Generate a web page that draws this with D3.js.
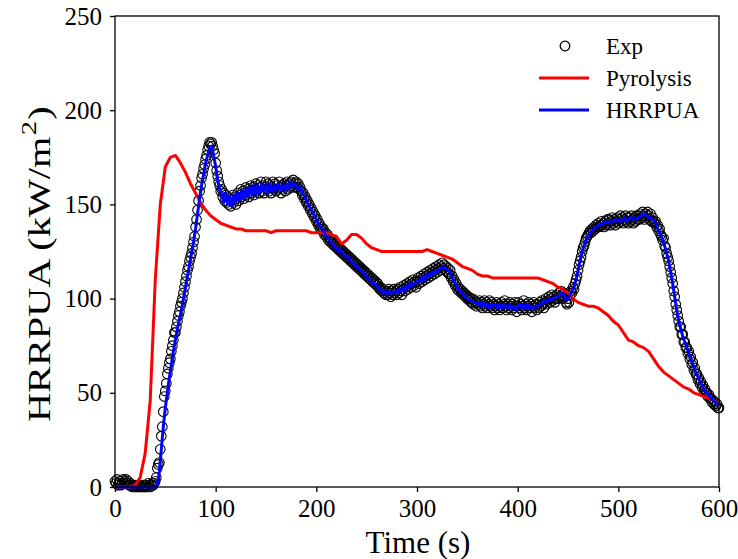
<!DOCTYPE html>
<html>
<head>
<meta charset="utf-8">
<script src="https://cdn.jsdelivr.net/npm/d3@7"></script>
<style>
  html, body { margin: 0; padding: 0; background: #fff; }
  svg text { font-family: 'Liberation Serif', 'Times New Roman', serif; fill: #000; }
</style>
</head>
<body>
<div id="chart"></div>
<script>
// Exp: one reading per second, 0..600 s (10 values per row)
const expTime = d3.range(0, 601, 1);
const expValues = [
  3, 2, 4, 1, 2, 3, 1, 2, 4, 2,
  3, 4, 2, 3, 1, 2, 1, 0, 1, 0,
  1, 0, 0, 1, 0, 1, 0, 0, 1, 0,
  0, 1, 0, 2, 1, 0, 1, 2, 1, 2,
  3, 5, 10, 12, 13, 20, 27, 32, 40, 48,
  51, 55, 60, 63, 66, 68, 72, 75, 78, 82,
  82, 85, 88, 91, 93, 96, 98, 100, 103, 106,
  109, 112, 115, 117, 120, 122, 124, 127, 130, 133,
  138, 142, 147, 152, 157, 160, 164, 166, 169, 171,
  174, 176, 179, 181, 183, 182, 183, 181, 179, 177,
  172, 168, 165, 162, 160, 157, 158, 154, 156, 152,
  155, 151, 154, 150, 153, 149, 152, 155, 151, 154,
  150, 153, 156, 152, 155, 158, 154, 157, 153, 156,
  159, 155, 158, 154, 157, 160, 156, 159, 155, 158,
  161, 157, 160, 156, 159, 162, 157, 160, 156, 159,
  162, 158, 161, 157, 160, 156, 159, 162, 158, 161,
  157, 160, 158, 162, 159, 156, 160, 158, 161, 157,
  160, 162, 158, 161, 159, 162, 160, 163, 159, 161,
  162, 159, 161, 158, 159, 157, 155, 156, 153, 154,
  151, 152, 149, 150, 147, 148, 145, 146, 143, 144,
  141, 142, 139, 140, 137, 138, 136, 137, 134, 135,
  133, 134, 131, 132, 130, 131, 129, 130, 128, 129,
  127, 128, 126, 127, 125, 126, 124, 125, 123, 124,
  122, 123, 121, 122, 120, 121, 119, 120, 118, 119,
  117, 118, 116, 117, 115, 116, 114, 115, 113, 114,
  112, 113, 111, 112, 110, 111, 109, 110, 108, 109,
  107, 108, 106, 105, 106, 104, 105, 103, 104, 102,
  104, 102, 105, 103, 101, 104, 102, 105, 103, 104,
  102, 105, 103, 106, 104, 102, 105, 107, 104, 106,
  108, 105, 107, 109, 106, 108, 110, 107, 109, 106,
  109, 111, 108, 110, 112, 109, 111, 113, 110, 112,
  114, 111, 113, 115, 112, 114, 116, 113, 115, 117,
  114, 116, 118, 115, 117, 119, 116, 118, 115, 117,
  114, 116, 113, 115, 111, 112, 109, 110, 107, 108,
  105, 106, 104, 105, 103, 104, 102, 103, 101, 102,
  100, 101, 99, 100, 98, 100, 97, 99, 98, 96,
  98, 97, 99, 96, 98, 95, 97, 99, 96, 98,
  95, 97, 99, 96, 98, 95, 97, 94, 96, 98,
  95, 97, 94, 96, 98, 95, 97, 99, 96, 94,
  97, 95, 98, 96, 94, 97, 95, 98, 96, 93,
  96, 98, 95, 97, 94, 96, 99, 95, 97, 94,
  96, 98, 95, 97, 93, 96, 98, 95, 97, 94,
  97, 95, 98, 96, 99, 97, 95, 98, 100, 97,
  99, 101, 98, 100, 102, 99, 101, 98, 100, 102,
  100, 103, 101, 104, 102, 100, 103, 101, 98, 97,
  100, 98, 102, 104, 103, 106, 105, 108, 110, 112,
  115, 118, 120, 122, 125, 127, 128, 130, 132, 133,
  134, 135, 136, 135, 137, 136, 138, 137, 139, 138,
  140, 138, 139, 141, 139, 140, 138, 141, 139, 142,
  140, 142, 139, 141, 143, 140, 142, 139, 141, 143,
  140, 142, 144, 141, 143, 140, 142, 144, 141, 143,
  140, 143, 141, 144, 142, 140, 143, 141, 144, 142,
  144, 142, 145, 143, 146, 144, 142, 145, 143, 146,
  144, 142, 145, 141, 143, 141, 140, 141, 138, 139,
  136, 137, 134, 133, 131, 132, 128, 127, 124, 122,
  120, 117, 114, 111, 108, 104, 101, 97, 94, 91,
  88, 85, 85, 81, 81, 77, 77, 74, 74, 71,
  72, 68, 69, 65, 66, 62, 63, 60, 60, 57,
  58, 55, 56, 53, 54, 51, 52, 50, 50, 48,
  49, 47, 47, 45, 46, 44, 45, 43, 44, 42,
  42
];

// Pyrolysis model: every 5 s
const pyrolysisTime = d3.range(0, 601, 5);
const pyrolysisValues = [
  0, 0, 0, 0, 1, 5, 18, 46, 110, 150,
  170, 175, 176, 172, 167, 161, 156, 151, 147, 144,
  142, 140, 139, 138, 137, 137, 136, 136, 136, 136,
  136, 135, 136, 136, 136, 136, 136, 136, 136, 135,
  135, 135, 135, 134, 133, 129, 131, 134, 134, 132,
  129, 127, 126, 125, 125, 125, 125, 125, 125, 125,
  125, 125, 126, 125, 124, 123, 122, 121, 119, 117,
  116, 115, 113, 112, 112, 111, 111, 111, 111, 111,
  111, 111, 111, 111, 111, 110, 109, 108, 106, 105,
  103, 100, 98, 97, 96, 96, 95, 93, 91, 88,
  86, 82, 78, 77, 75, 74, 72, 68, 64, 61,
  59, 57, 55, 53, 52, 50, 49, 48, 47, 46,
  44
];

// HRRPUA model: every 2 s
const hrrpuaTime = d3.range(0, 601, 2);
const hrrpuaValues = [
  0, 0, 0, 0, 0, 0, 0, 0, 0, 0,
  0, 0, 0, 0, 0, 0, 0, 0, 0, 0,
  0, 1, 8, 20, 32, 42, 50, 58, 65, 72,
  78, 84, 89, 94, 100, 106, 112, 118, 124, 130,
  137, 145, 153, 160, 166, 172, 176, 180, 181, 176,
  170, 163, 158, 155, 151, 156, 150, 154, 149, 155,
  151, 156, 152, 157, 153, 158, 154, 159, 155, 160,
  155, 160, 156, 161, 157, 160, 156, 161, 157, 160,
  157, 161, 158, 160, 157, 161, 158, 162, 159, 161,
  160, 158, 159, 156, 155, 152, 150, 148, 146, 144,
  142, 140, 138, 137, 135, 133, 132, 130, 129, 127,
  127, 125, 126, 124, 123, 122, 122, 120, 119, 118,
  117, 116, 115, 114, 113, 111, 111, 109, 108, 108,
  107, 105, 105, 103, 104, 102, 104, 103, 103, 104,
  103, 105, 104, 106, 104, 107, 106, 108, 107, 108,
  109, 110, 109, 112, 110, 113, 112, 114, 113, 115,
  114, 116, 116, 117, 116, 115, 115, 112, 110, 108,
  106, 104, 103, 102, 101, 100, 99, 99, 98, 98,
  97, 98, 96, 98, 96, 97, 95, 97, 96, 97,
  95, 97, 95, 97, 96, 95, 97, 95, 96, 94,
  96, 97, 95, 97, 95, 97, 95, 96, 95, 96,
  96, 97, 97, 99, 98, 99, 100, 99, 100, 101,
  101, 102, 103, 102, 99, 100, 102, 104, 106, 110,
  115, 120, 125, 128, 131, 133, 135, 136, 137, 138,
  139, 139, 140, 140, 141, 140, 141, 141, 142, 141,
  142, 141, 142, 143, 141, 142, 143, 142, 143, 142,
  143, 144, 144, 145, 144, 143, 143, 142, 141, 139,
  136, 134, 131, 128, 124, 120, 114, 108, 101, 94,
  88, 84, 80, 77, 74, 71, 68, 65, 62, 60,
  57, 55, 53, 51, 50, 49, 47, 46, 45, 44,
  43
];

const xTicks = [0, 100, 200, 300, 400, 500, 600];
const yTicks = [0, 50, 100, 150, 200, 250];
const legendLabels = ['Exp', 'Pyrolysis', 'HRRPUA'];

const expData = expValues.map((v, i) => [expTime[i], v]);
const pyrolysisData = pyrolysisValues.map((v, i) => [pyrolysisTime[i], v]);
const hrrpuaData = hrrpuaValues.map((v, i) => [hrrpuaTime[i], v]);

const width = 738;
const height = 559;
const margin = { top: 16, right: 19, bottom: 72, left: 115 };
const innerW = width - margin.left - margin.right;
const innerH = height - margin.top - margin.bottom;

const x = d3.scaleLinear().domain([0, 600]).range([0, innerW]);
const y = d3.scaleLinear().domain([0, 250]).range([innerH, 0]);

const svg = d3.select('#chart').append('svg')
  .attr('width', width)
  .attr('height', height);

const g = svg.append('g').attr('transform', `translate(${margin.left},${margin.top})`);

const line = d3.line().x((d) => x(d[0])).y((d) => y(d[1]));

// exp markers
g.append('g')
  .selectAll('circle')
  .data(expData)
  .join('circle')
  .attr('cx', (d) => x(d[0]))
  .attr('cy', (d) => y(d[1]))
  .attr('r', 4.8)
  .attr('fill', 'none')
  .attr('stroke', '#000')
  .attr('stroke-width', 1.1);

g.append('path')
  .datum(pyrolysisData)
  .attr('d', line)
  .attr('fill', 'none')
  .attr('stroke', '#ff0000')
  .attr('stroke-width', 3)
  .attr('stroke-linejoin', 'round');

g.append('path')
  .datum(hrrpuaData)
  .attr('d', line)
  .attr('fill', 'none')
  .attr('stroke', '#0000ff')
  .attr('stroke-width', 3)
  .attr('stroke-linejoin', 'round');

// axes
const xAxis = g.append('g')
  .attr('transform', `translate(0,${innerH})`)
  .call(d3.axisBottom(x).tickValues(xTicks).tickSize(5).tickPadding(7).tickFormat(d3.format('d')));
const yAxis = g.append('g')
  .call(d3.axisLeft(y).tickValues(yTicks).tickSize(5).tickPadding(8).tickFormat(d3.format('d')));

[xAxis, yAxis].forEach((a) => {
  a.attr('font-family', null).attr('font-size', null);
  a.select('.domain').remove();
  a.selectAll('line').attr('stroke', '#000').attr('stroke-width', 1.3);
  a.selectAll('text')
    .style('font-family', "'Liberation Serif', serif")
    .style('font-size', '25px');
});

g.append('rect')
  .attr('width', innerW)
  .attr('height', innerH)
  .attr('fill', 'none')
  .attr('stroke', '#000')
  .attr('stroke-width', 1.3);

// axis titles
svg.append('text')
  .attr('x', 418)
  .attr('y', 553)
  .attr('text-anchor', 'middle')
  .attr('font-size', 31)
  .text('Time (s)');

// the reference label is drawn stretched along its length
const yTitle = svg.append('text')
  .attr('transform', 'translate(50,422) rotate(-90) scale(1.3,1)')
  .attr('text-anchor', 'start')
  .attr('font-size', 31);
yTitle.append('tspan').text('HRRPUA (kW/m');
yTitle.append('tspan').attr('font-size', 22).attr('dy', -14).attr('dx', 1).text('2');
yTitle.append('tspan').attr('dy', 14).attr('dx', 1).text(')');

// legend
const legend = svg.append('g').attr('transform', 'translate(539,46)');
legendLabels.forEach((label, i) => {
  const row = legend.append('g').attr('transform', `translate(0,${i * 32})`);
  if (i === 0) {
    row.append('circle').attr('cx', 26).attr('cy', 0).attr('r', 4.8)
      .attr('fill', 'none').attr('stroke', '#000').attr('stroke-width', 1.3);
  } else {
    row.append('line').attr('x1', 0).attr('x2', 50).attr('y1', 0).attr('y2', 0)
      .attr('stroke', i === 1 ? '#ff0000' : '#0000ff').attr('stroke-width', 3);
  }
  row.append('text').attr('x', 67).attr('y', 8).attr('font-size', 23).text(label);
});
</script>
</body>
</html>
